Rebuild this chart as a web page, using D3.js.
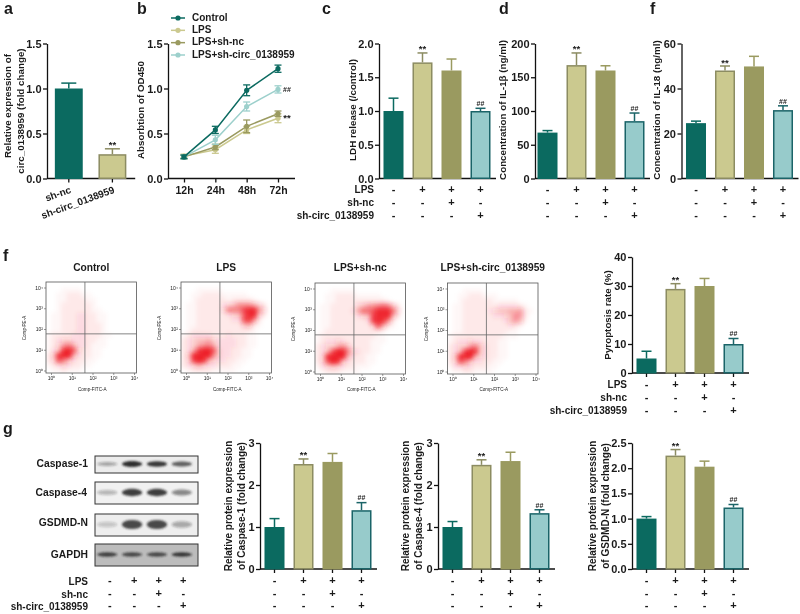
<!DOCTYPE html>
<html><head><meta charset="utf-8">
<script src="https://cdn.jsdelivr.net/npm/d3@7"></script>
<style>
html,body{margin:0;padding:0;background:#fff}
svg{display:block;filter:blur(0.45px)}
text{font-family:"Liberation Sans",Arial,sans-serif;font-weight:bold;fill:#1a1a1a}
</style></head><body><svg id="c" width="800" height="614"></svg>
<script>
// ---------- data ----------
const groups4 = ["Control","LPS","LPS+sh-nc","LPS+sh-circ_0138959"];
const lpsRow = ["-","+","+","+"];
const shNcRow = ["-","-","+","-"];
const shCircRow = ["-","-","-","+"];
const rowLabels = ["LPS","sh-nc","sh-circ_0138959"];

const circCats = ["sh-nc","sh-circ_0138959"];
const circValues = [1.0,0.27];
const circErrors = [0.06,0.06];

const timeLabels = ["12h","24h","48h","72h"];
const odControl = [0.24,0.54,0.98,1.22];
const odLps = [0.25,0.32,0.54,0.67];
const odShNc = [0.24,0.35,0.58,0.72];
const odShCirc = [0.24,0.43,0.80,0.99];
const odControlErr = [0.02,0.04,0.06,0.04];
const odLpsErr = [0.02,0.04,0.04,0.05];
const odShNcErr = [0.02,0.03,0.07,0.03];
const odShCircErr = [0.02,0.05,0.05,0.04];

const ldhValues = [1.0,1.72,1.6,1.0];
const ldhErrors = [0.19,0.14,0.17,0.04];
const il1Values = [68,168,160,85];
const il1Errors = [3,18,7,12];
const il18Values = [24.6,48,49.8,30.4];
const il18Errors = [0.9,2,4.5,1.9];
const pyroValues = [5,29,30,10];
const pyroErrors = [2.5,1.8,2.6,1.9];
const casp1Values = [1.0,2.5,2.55,1.4];
const casp1Errors = [0.2,0.12,0.2,0.18];
const casp4Values = [1.0,2.48,2.57,1.33];
const casp4Errors = [0.13,0.12,0.21,0.08];
const gsdmdValues = [1.0,2.25,2.03,1.22];
const gsdmdErrors = [0.04,0.12,0.11,0.06];

const signif4 = ["","**","","##"];
const signif2 = ["","**"];

// flow cytometry: event density (0-f)
const flowControl = [
"000000000000000000","000111100000000000","001122211000000000","001122221100000000",
"001222222100000000","001222222110000000","011222332211000000","011222332211000000",
"011222332221000000","011222332221000000","122223332221100000","123443332211000000",
"124796332111000000","135dfb422110000000","25dfe6322110000000","24b953221100000000",
"123432211000000000","011211100000000000"];
const flowLps = [
"000000000000000000","000111110000000000","001122221111100000","001222222122221000",
"011222223458886420","011222224999cee840","011222222345bfe520","011222222233bd8200",
"011222222222562100","012222222222221000","123333222322211000","234556433332211000",
"234689633332211000","236cffb43322110000","25dfff843322110000","24cfd6433221100000",
"234643322211000000","012222111110000000"];
const flowShNc = [
"000000000000000000","000111110000000000","001122221111100000","001122222222221000",
"0112222245789a9520","011222236aabeffa40","01122222345cfff620","01122222223cfd8200",
"011222222224b62100","012222222222210000","122222222222110000","123343222221110000",
"234468522221100000","235bff943221100000","24dfff632211000000","24bfd5322211000000",
"134543221110000000","012221111000000000"];
const flowShCirc = [
"000000000000000000","000111100000000000","001122211100000000","001222222111110000",
"011222222233332100","011222223455667210","011222222334587200","011222222223575100",
"011222222222321000","011222222222110000","122222222221110000","123343322211000000",
"234479532211000000","235cfd532211000000","25dfe6432211000000","24b953322110000000",
"133432221100000000","011221111000000000"];
const flowDecades = [1,10,100,1000,10000];
const superDigits = ["\u2070","\u00b9","\u00b2","\u00b3","\u2074"];

// western blots: band darkness per lane
const blotNames = ["Caspase-1","Caspase-4","GSDMD-N","GAPDH"];
const blotCasp1 = [0.35,0.95,0.9,0.7];
const blotCasp4 = [0.28,0.85,0.85,0.5];
const blotGsdmd = [0.2,0.8,0.8,0.33];
const blotGapdh = [0.8,0.75,0.75,0.85];

// ---------- colours ----------
const teal="#0b6a60", khaki="#cbc98f", olive="#9a9a60", pale="#97cbcb";
const khakiEdge="#8c8c62", tealEdge="#1b6468";
const fills=[teal,khaki,olive,pale], edges=[teal,khakiEdge,olive,tealEdge];

const svg=d3.select("#c");
const defs=svg.append("defs");
defs.append("filter").attr("id","flowBlur").attr("x","-10%").attr("y","-10%").attr("width","120%").attr("height","120%")
  .append("feGaussianBlur").attr("stdDeviation",2.1);
defs.append("filter").attr("id","bandBlur").attr("x","-30%").attr("y","-100%").attr("width","160%").attr("height","300%")
  .append("feGaussianBlur").attr("stdDeviation",1);

function label(x,y,t,size,anchor,rot){
  const s=svg.append("text").attr("font-size",size).attr("text-anchor",anchor||"middle")
    .attr("dominant-baseline","middle").text(t);
  if(rot!==undefined) s.attr("transform",`translate(${x},${y}) rotate(${rot})`);
  else s.attr("x",x).attr("y",y);
  return s;
}
function styleAxis(g,fs){
  g.selectAll("path,line").attr("stroke","#111").attr("stroke-width",1.3);
  g.selectAll("text").attr("font-size",fs).attr("font-family",null).attr("fill",null);
  g.attr("font-family",null);
}
function barChart(o){
  const g=svg.append("g");
  const start=o.barStart===undefined?o.x0:o.barStart;
  const y=d3.scaleLinear().domain([0,o.max]).range([o.y0,o.y1]);
  const x=d3.scaleBand().domain(o.cats).range([start,start+o.step*o.cats.length]).paddingInner(o.pad).paddingOuter(o.pad/2);
  const ax=g.append("g").attr("transform",`translate(${o.x0},0)`)
    .call(d3.axisLeft(y).tickValues(o.ticks).tickFormat(o.fmt).tickSize(4).tickSizeOuter(0).tickPadding(1.5));
  styleAxis(ax,11);
  const bx=g.append("g").attr("transform",`translate(0,${o.y0})`)
    .call(d3.axisBottom(x).tickSize(o.xticks?4:0).tickSizeOuter(0).tickFormat(""));
  styleAxis(bx,10);
  bx.select(".domain").attr("d",`M${o.x0},0H${start+o.step*o.cats.length+1}`);
  const cx=d=>x(d)+x.bandwidth()/2;
  o.cats.forEach((c,i)=>{
    const v=o.values[i],e=o.errors[i],top=y(v+e),col=o.edges[i],cw=o.capw||10;
    g.append("line").attr("x1",cx(c)).attr("x2",cx(c)).attr("y1",y(v)).attr("y2",top).attr("stroke",col).attr("stroke-width",1.5);
    g.append("line").attr("x1",cx(c)-cw/2).attr("x2",cx(c)+cw/2).attr("y1",top).attr("y2",top).attr("stroke",col).attr("stroke-width",1.5);
    g.append("rect").attr("x",x(c)+.75).attr("width",x.bandwidth()-1.5).attr("y",y(v)+.75).attr("height",Math.max(0,o.y0-y(v)-1))
      .attr("fill",o.fills[i]).attr("stroke",col).attr("stroke-width",1.5);
    const s=o.sig[i];
    if(s) label(cx(c),top-(s==="##"?4:3),s,s==="##"?7:9.5).attr("fill","#333");
  });
  if(o.rows){
    [lpsRow,shNcRow,shCircRow].forEach((r,ri)=>{
      r.forEach((m,i)=>label(cx(o.cats[i])+(o.symdx||0),o.rows[ri],m,11));
      if(o.rowLabelX) label(o.rowLabelX,o.rows[ri],rowLabels[ri],10,"end");
    });
  }
  return {x,y,cx};
}

// panel a
const pa=barChart({cats:circCats,values:circValues,errors:circErrors,max:1.5,ticks:[0,.5,1,1.5],fmt:d3.format(".1f"),
  x0:47,y0:178.5,y1:43.5,step:43.6,pad:.36,xticks:true,fills:[teal,khaki],edges:[teal,khakiEdge],sig:signif2,capw:15});
circCats.forEach((c,i)=>label(pa.cx(c)+2,190,c,10,"end",-20));
label(8,106,"Relative expression of",9.8,"middle",-90);
label(21,111,"circ_0138959 (fold change)",9.8,"middle",-90);

// panel b
(function(){
  const g=svg.append("g");
  const x=d3.scalePoint().domain(timeLabels).range([184,278]);
  const y=d3.scaleLinear().domain([0,1.5]).range([178.5,43.5]);
  const ay=g.append("g").attr("transform","translate(168,0)").call(d3.axisLeft(y).tickValues([0,.5,1,1.5]).tickFormat(d3.format(".1f")).tickSize(4).tickSizeOuter(0).tickPadding(1.5));
  styleAxis(ay,11);
  const ax=g.append("g").attr("transform","translate(0,178.5)").call(d3.axisBottom(x).tickSize(4).tickSizeOuter(0).tickPadding(4));
  styleAxis(ax,10.5);
  ax.select(".domain").attr("d","M168,0H295");
  const series=[[odLps,odLpsErr,"#cbc98f","LPS"],[odShNc,odShNcErr,"#9a9a60","LPS+sh-nc"],[odShCirc,odShCircErr,"#9dd0cc","LPS+sh-circ_0138959"],[odControl,odControlErr,"#0b6a60","Control"]];
  const line=d3.line().x((d,i)=>x(timeLabels[i])).y(d=>y(d));
  series.forEach(([v,e,c])=>{
    g.append("path").attr("d",line(v)).attr("fill","none").attr("stroke",c).attr("stroke-width",1.5);
    v.forEach((d,i)=>{
      const px=x(timeLabels[i]);
      g.append("line").attr("x1",px).attr("x2",px).attr("y1",y(d-e[i])).attr("y2",y(d+e[i])).attr("stroke",c).attr("stroke-width",1.3);
      [d-e[i],d+e[i]].forEach(q=>g.append("line").attr("x1",px-3.5).attr("x2",px+3.5).attr("y1",y(q)).attr("y2",y(q)).attr("stroke",c).attr("stroke-width",1.3));
      g.append("circle").attr("cx",px).attr("cy",y(d)).attr("r",2.6).attr("fill",c);
    });
  });
  label(287,y(0.99)+1,"##",7).attr("fill","#333");
  label(287,y(0.68)+1,"**",9.5).attr("fill","#333");
  const legendY=d3.scalePoint().domain(["Control","LPS","LPS+sh-nc","LPS+sh-circ_0138959"]).range([18,55]);
  series.forEach(([,,c,n])=>{
    const ly=legendY(n);
    g.append("line").attr("x1",171).attr("x2",185).attr("y1",ly).attr("y2",ly).attr("stroke",c).attr("stroke-width",1.5);
    g.append("circle").attr("cx",178).attr("cy",ly).attr("r",2.6).attr("fill",c);
    label(192,ly,n,10,"start");
  });
  label(141,110,"Absorbtion of OD450",9.8,"middle",-90);
})();

// panels c, d, f (top row)
const topRows=[190,203.5,216];
barChart({cats:groups4,values:ldhValues,errors:ldhErrors,max:2,ticks:[0,.5,1,1.5,2],fmt:d3.format(".1f"),x0:379,y0:178.5,y1:43.5,step:29,pad:.31,fills,edges,sig:signif4,rows:topRows,rowLabelX:374});
label(353,110,"LDH release (/control)",9.8,"middle",-90);
barChart({cats:groups4,values:il1Values,errors:il1Errors,max:200,ticks:[0,50,100,150,200],fmt:d3.format("d"),x0:535,barStart:533,y0:178.5,y1:43.5,step:29,pad:.31,fills,edges,sig:signif4,rows:topRows});
label(503,110,"Concentration of IL-1\u03b2 (ng/ml)",9.8,"middle",-90);
barChart({cats:groups4,values:il18Values,errors:il18Errors,max:60,ticks:[0,20,40,60],fmt:d3.format("d"),x0:681.5,y0:178.5,y1:43.5,step:29,pad:.31,fills,edges,sig:signif4,rows:topRows});
label(657,110,"Concentration of IL-18 (ng/ml)",9.8,"middle",-90);

// pyroptosis
barChart({cats:groups4,values:pyroValues,errors:pyroErrors,max:40,ticks:[0,10,20,30,40],fmt:d3.format("d"),x0:632,y0:373,y1:257,step:29,pad:.31,xticks:true,fills,edges,sig:signif4,rows:[385,398,411],rowLabelX:627});
label(608,315,"Pyroptosis rate (%)",9.8,"middle",-90);

// protein charts
const gRows=[581,594,606];
barChart({cats:groups4,values:casp1Values,errors:casp1Errors,max:3,ticks:[0,1,2,3],fmt:d3.format("d"),x0:260,y0:569,y1:443,step:29,pad:.31,xticks:true,fills,edges,sig:signif4,rows:gRows});
label(229,506,"Relative protein expression",10,"middle",-90);
label(242,506,"of Caspase-1 (fold change)",10,"middle",-90);
barChart({cats:groups4,values:casp4Values,errors:casp4Errors,max:3,ticks:[0,1,2,3],fmt:d3.format("d"),x0:438,y0:569,y1:443,step:29,pad:.31,xticks:true,fills,edges,sig:signif4,rows:gRows});
label(406,506,"Relative protein expression",10,"middle",-90);
label(419,506,"of Caspase-4 (fold change)",10,"middle",-90);
barChart({cats:groups4,values:gsdmdValues,errors:gsdmdErrors,max:2.5,ticks:[0,.5,1,1.5,2,2.5],fmt:d3.format(".1f"),x0:632,y0:569,y1:443,step:29,pad:.31,xticks:true,fills,edges,sig:signif4,rows:gRows});
label(593,506,"Relative protein expression",10,"middle",-90);
label(606,506,"of GSDMD-N (fold change)",10,"middle",-90);

// flow plots
function flowPlot(grid,x0,y0,title,id){
  const w=90.5,h=91;
  const g=svg.append("g");
  defs.append("clipPath").attr("id",id).append("rect").attr("x",x0).attr("y",y0).attr("width",w).attr("height",h);
  const idx=d3.range(grid.length);
  const cx=d3.scaleBand().domain(idx).range([x0,x0+w]);
  const cy=d3.scaleBand().domain(idx).range([y0,y0+h]);
  const tone=d3.scalePow().exponent(1.3).domain([0,14]).range([0,1]).clamp(true);
  const dens=g.append("g").attr("clip-path",`url(#${id})`).append("g").attr("filter","url(#flowBlur)");
  grid.forEach((row,r)=>row.split("").forEach((ch,c)=>{
    const v=parseInt(ch,16);
    if(v>0) dens.append("rect").attr("x",cx(c)).attr("y",cy(r)).attr("width",cx.bandwidth()+.3).attr("height",cy.bandwidth()+.3)
      .attr("fill","#ee1c25").attr("opacity",tone(v));
  }));
  const lx=d3.scaleLog().domain([1,1e4]).range([x0+5,x0+88]);
  const ly=d3.scaleLog().domain([1,1e4]).range([y0+88.5,y0+5.5]);
  const fmt=d=>"10"+superDigits[flowDecades.indexOf(d)];
  const ax=g.append("g").attr("transform",`translate(0,${y0+h})`).call(d3.axisBottom(lx).tickValues(flowDecades).tickFormat(fmt).tickSize(2).tickSizeOuter(0).tickPadding(1));
  const ay=g.append("g").attr("transform",`translate(${x0},0)`).call(d3.axisLeft(ly).tickValues(flowDecades).tickFormat(fmt).tickSize(2).tickSizeOuter(0).tickPadding(1));
  [ax,ay].forEach(a=>{a.select(".domain").remove();a.selectAll("line").attr("stroke","#555").attr("stroke-width",.6);
    a.selectAll("text").attr("font-size",5).attr("fill","#555").style("font-weight","normal").attr("font-family",null);a.attr("font-family",null);});
  g.append("rect").attr("x",x0).attr("y",y0).attr("width",w).attr("height",h).attr("fill","none").attr("stroke","#555").attr("stroke-width",.8);
  const qx=x0+w*.43,qy=y0+h*.57;
  g.append("line").attr("x1",qx).attr("x2",qx).attr("y1",y0).attr("y2",y0+h).attr("stroke","#666").attr("stroke-width",.8);
  g.append("line").attr("x1",x0).attr("x2",x0+w).attr("y1",qy).attr("y2",qy).attr("stroke","#666").attr("stroke-width",.8);
  label(x0+w/2+1,390,"Comp-FITC-A",4.6).attr("fill","#555").style("font-weight","normal");
  label(x0-21,y0+46,"Comp-PE-A",4.6,"middle",-90).attr("fill","#555").style("font-weight","normal");
  label(x0+w/2,268,title,10.2);
}
flowPlot(flowControl,46,282,"Control","fc0");
flowPlot(flowLps,181,282,"LPS","fc1");
flowPlot(flowShNc,315,283,"LPS+sh-nc","fc2");
flowPlot(flowShCirc,447.5,283,"LPS+sh-circ_0138959","fc3");

// western blots
(function(){
  const lanes=d3.scaleBand().domain(d3.range(4)).range([96,191]).paddingInner(.18);
  const boxes=[[blotCasp1,456,17,"#ececec",6],[blotCasp4,482,22,"#f1f1f1",8],[blotGsdmd,514,22,"#eeeeee",10],[blotGapdh,544,22,"#bcbcbc",5]];
  const labelY=[464,493,523,555];
  const labelX=[88,87,88,88];
  boxes.forEach(([vals,by,bh,bg,th],k)=>{
    const id="blot"+k;
    defs.append("clipPath").attr("id",id).append("rect").attr("x",95).attr("y",by).attr("width",103).attr("height",bh);
    svg.append("rect").attr("x",95).attr("y",by).attr("width",103).attr("height",bh).attr("fill",bg);
    const gb=svg.append("g").attr("clip-path",`url(#${id})`).append("g").attr("filter","url(#bandBlur)");
    vals.forEach((v,i)=>{
      gb.append("ellipse").attr("cx",lanes(i)+lanes.bandwidth()/2+1).attr("cy",by+bh/2-.5)
        .attr("rx",lanes.bandwidth()/2).attr("ry",th*(0.45+0.55*v)/2).attr("fill","#222").attr("opacity",v);
    });
    svg.append("rect").attr("x",95).attr("y",by).attr("width",103).attr("height",bh).attr("fill","none").attr("stroke","#333").attr("stroke-width",1);
    label(labelX[k],labelY[k],blotNames[k],10.3,"end");
  });
  const sym=d3.scaleBand().domain(d3.range(4)).range([98,196]);
  [lpsRow,shNcRow,shCircRow].forEach((r,ri)=>{
    r.forEach((m,i)=>label(sym(i)+sym.bandwidth()/2-.5,gRows[ri],m,11));
    label(88,gRows[ri]+1,rowLabels[ri],10,"end");
  });
})();

// panel letters
[["a",4,10],["b",137,10],["c",322,10],["d",499,10],["f",650,10],["f",3,257],["g",3,430]].forEach(([t,x,y])=>label(x,y,t,16,"start"));
</script></body></html>
